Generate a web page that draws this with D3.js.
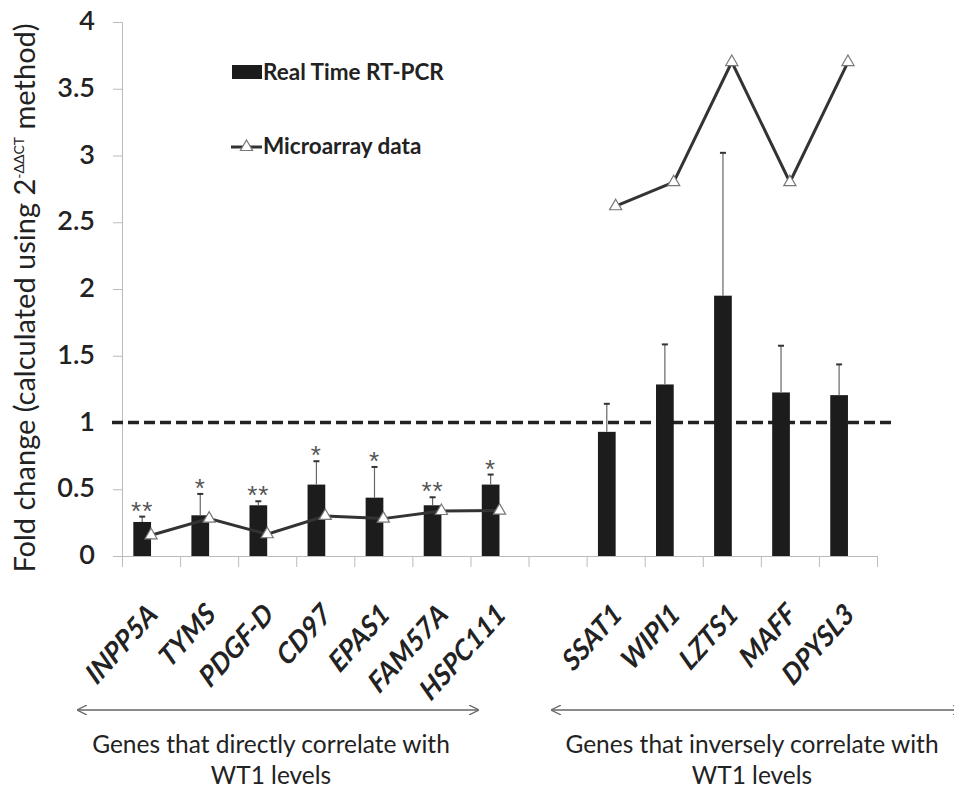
<!DOCTYPE html>
<html>
<head>
<meta charset="utf-8">
<script src="https://cdn.jsdelivr.net/npm/d3@7"></script>
<style>
  body { margin: 0; background: #fff; }
  svg { display: block; font-family: Lato, "Open Sans", sans-serif; }
</style>
</head>
<body>
<div id="chart"></div>
<script>
/* --- data ---------------------------------------------------------------- */
// one empty slot separates the two gene groups on the category axis
const genes      = ["INPP5A", "TYMS", "PDGF-D", "CD97", "EPAS1", "FAM57A", "HSPC111", "",
                    "SSAT1", "WIPI1", "LZTS1", "MAFF", "DPYSL3"];
const rtPcr      = [0.255, 0.305, 0.38, 0.535, 0.437, 0.38, 0.535, null,
                    0.93, 1.285, 1.95, 1.225, 1.205];
const rtPcrErr   = [0.04, 0.16, 0.03, 0.175, 0.23, 0.06, 0.075, null,
                    0.21, 0.30, 1.07, 0.35, 0.23];
const microarray = [0.155, 0.28, 0.163, 0.30, 0.28, 0.337, 0.34, null,
                    2.62, 2.80, 3.70, 2.80, 3.70];
const signif     = ["**", "*", "**", "*", "*", "**", "*", "", "", "", "", "", ""];
const yTicks     = [0, 0.5, 1, 1.5, 2, 2.5, 3, 3.5, 4];
const groups = [
  { line1: "Genes that directly correlate with", line2: "WT1 levels", x1: 78, x2: 478, tx: 271 },
  { line1: "Genes that inversely correlate with", line2: "WT1 levels", x1: 552, x2: 962, tx: 752 }
];

/* --- layout -------------------------------------------------------------- */
const W = 954, H = 795;
const plot = { left: 122, right: 877, top: 22, bottom: 556 };
const ink = "#222";

const svg = d3.select("#chart").append("svg")
  .attr("width", W).attr("height", H);

const x = d3.scaleBand().domain(d3.range(genes.length))
  .range([plot.left, plot.right]).padding(0);
const y = d3.scaleLinear().domain([0, 4]).range([plot.bottom, plot.top]);
const barW = x.bandwidth() * 0.305;
const cx = i => x(i) + x.bandwidth() / 2;

/* --- axes ---------------------------------------------------------------- */
const yAxis = svg.append("g")
  .attr("transform", `translate(${plot.left},0)`)
  .call(d3.axisLeft(y).tickValues(yTicks).tickSize(9).tickPadding(18).tickFormat(d => String(d)));
yAxis.select(".domain").attr("stroke", "#bbb");
yAxis.selectAll(".tick line").attr("stroke", "#bbb");
yAxis.selectAll(".tick text")
  .attr("fill", ink).attr("dy", "0.28em")
  .style("font-size", "27px").style("font-weight", 600).style("font-family", "Lato, sans-serif");

const xAxis = svg.append("g")
  .attr("transform", `translate(0,${plot.bottom})`)
  .call(d3.axisBottom(d3.scaleLinear().domain([0, genes.length]).range([plot.left, plot.right]))
    .ticks(genes.length).tickSize(11).tickSizeOuter(0).tickFormat(""));
xAxis.select(".domain").attr("stroke", "#bbb");
xAxis.selectAll(".tick line").attr("stroke", "#bbb");

// category labels (source is slightly stretched vertically)
svg.append("g").selectAll("text")
  .data(genes.map((g, i) => ({ g, i })).filter(d => d.g))
  .join("text")
    .attr("transform", d => `translate(${cx(d.i) + 8},${plot.bottom + 60}) scale(1,1.12) rotate(-45)`)
    .attr("text-anchor", "end")
    .attr("fill", ink)
    .style("font-size", "26px").style("font-weight", "bold").style("font-style", "italic")
    .text(d => d.g);

// y title
const yTitle = svg.append("text")
  .attr("transform", `translate(35,${(plot.top + plot.bottom) / 2 + 9}) rotate(-90)`)
  .attr("text-anchor", "middle")
  .attr("fill", ink)
  .style("font-size", "29px");
yTitle.append("tspan").text("Fold change (calculated using 2");
yTitle.append("tspan").attr("dy", -11).style("font-size", "14px").text("-ΔΔCT");
yTitle.append("tspan").attr("dy", 11).text(" method)");

/* --- reference line at 1 ------------------------------------------------- */
svg.append("line")
  .attr("x1", plot.left - 10).attr("x2", 894)
  .attr("y1", y(1)).attr("y2", y(1))
  .attr("stroke", "#222").attr("stroke-width", 3.5).attr("stroke-dasharray", "11,5");

/* --- bars ---------------------------------------------------------------- */
const barData = rtPcr.map((v, i) => ({ i, v, e: rtPcrErr[i], s: signif[i] })).filter(d => d.v != null);

svg.append("g").selectAll("rect")
  .data(barData)
  .join("rect")
    .attr("x", d => cx(d.i) - barW)
    .attr("y", d => y(d.v))
    .attr("width", barW)
    .attr("height", d => y(0) - y(d.v))
    .attr("fill", "#1c1c1c");

// error bars (upper only)
const err = svg.append("g").attr("stroke", "#666").attr("stroke-width", 1.2);
err.selectAll("line.v")
  .data(barData).join("line").attr("class", "v")
    .attr("x1", d => cx(d.i) - barW / 2).attr("x2", d => cx(d.i) - barW / 2)
    .attr("y1", d => y(d.v)).attr("y2", d => y(d.v + d.e));
err.selectAll("line.c")
  .data(barData).join("line").attr("class", "c")
    .attr("x1", d => cx(d.i) - barW / 2 - 3).attr("x2", d => cx(d.i) - barW / 2 + 3)
    .attr("y1", d => y(d.v + d.e)).attr("y2", d => y(d.v + d.e))
    .attr("stroke", "#333").attr("stroke-width", 2);

// significance stars
svg.append("g").selectAll("text")
  .data(barData.filter(d => d.s))
  .join("text")
    .attr("x", d => cx(d.i) - barW / 2)
    .attr("y", d => y(d.v + d.e) + 3)
    .attr("text-anchor", "middle")
    .attr("fill", "#555")
    .style("font-family", "'Liberation Sans', Arial, sans-serif")
    .style("font-size", "26px").style("letter-spacing", "1px")
    .text(d => d.s);

/* --- microarray line ----------------------------------------------------- */
const micro = microarray.map((v, i) => ({ i, v }));
svg.append("path")
  .datum(micro)
  .attr("fill", "none")
  .attr("stroke", "#333").attr("stroke-width", 3)
  .attr("d", d3.line().defined(d => d.v != null).x(d => cx(d.i)).y(d => y(d.v)));

const tri = d3.symbol(d3.symbolTriangle, 64);
svg.append("g").selectAll("path")
  .data(micro.filter(d => d.v != null))
  .join("path")
    .attr("transform", d => `translate(${cx(d.i)},${y(d.v)})`)
    .attr("d", tri)
    .attr("fill", "#fff").attr("stroke", "#777").attr("stroke-width", 1.2);

/* --- legend -------------------------------------------------------------- */
const lg = svg.append("g").attr("transform", "translate(232,0)");
lg.append("rect").attr("x", 0).attr("y", 65).attr("width", 30).attr("height", 14).attr("fill", "#1c1c1c");
lg.append("text").attr("x", 31).attr("y", 80).attr("fill", ink)
  .style("font-size", "22.5px").style("font-weight", "bold").text("Real Time RT-PCR");
lg.append("line").attr("x1", -1).attr("x2", 30).attr("y1", 147).attr("y2", 147)
  .attr("stroke", "#333").attr("stroke-width", 3);
lg.append("path").attr("transform", "translate(14.5,147)").attr("d", tri)
  .attr("fill", "#fff").attr("stroke", "#777").attr("stroke-width", 1.2);
lg.append("text").attr("x", 31).attr("y", 154).attr("fill", ink)
  .style("font-size", "22.5px").style("font-weight", "bold").text("Microarray data");

/* --- group annotations --------------------------------------------------- */
const defs = svg.append("defs");
defs.append("marker").attr("id", "chev").attr("viewBox", "0 0 10 10")
  .attr("refX", 9).attr("refY", 5).attr("markerWidth", 10).attr("markerHeight", 10)
  .attr("markerUnits", "userSpaceOnUse").attr("orient", "auto-start-reverse")
  .append("path").attr("d", "M0,0 L10,5 L0,10").attr("fill", "none")
  .attr("stroke", "#666").attr("stroke-width", 1.3);

const ga = svg.append("g");
groups.forEach(gr => {
  ga.append("line")
    .attr("x1", gr.x1).attr("x2", gr.x2).attr("y1", 710).attr("y2", 710)
    .attr("stroke", "#666").attr("stroke-width", 1.5)
    .attr("marker-start", "url(#chev)").attr("marker-end", "url(#chev)");
  ga.append("text").attr("x", gr.tx).attr("y", 753).attr("text-anchor", "middle")
    .attr("fill", ink).style("font-size", "24.5px").text(gr.line1);
  ga.append("text").attr("x", gr.tx).attr("y", 784).attr("text-anchor", "middle")
    .attr("fill", ink).style("font-size", "24.5px").text(gr.line2);
});
</script>
</body>
</html>
